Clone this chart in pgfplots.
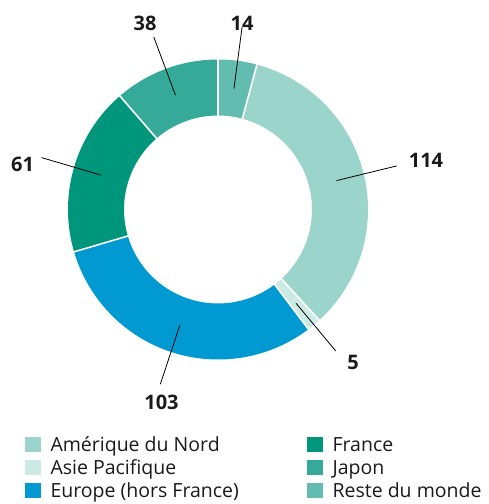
\documentclass[border=0pt]{standalone}
\usepackage{pgfplots}
\usepackage{pgfplotstable}
\pgfplotsset{compat=1.18}
\usepackage{fontspec}
\setmainfont{Open Sans}
\definecolor{col0}{HTML}{62BDB0}% Reste du monde
\definecolor{col1}{HTML}{9BD4CA}% Amerique du Nord
\definecolor{col2}{HTML}{CCE9E4}% Asie Pacifique
\definecolor{col3}{HTML}{0099D1}% Europe
\definecolor{col4}{HTML}{00967B}% France
\definecolor{col5}{HTML}{35AA98}% Japon
\definecolor{txt}{HTML}{1A1A1A}

\pgfplotstableread{
region value
Reste 14
Amerique 114
Asie 5
Europe 103
France 61
Japon 38
}\donutdata

\begin{document}
\begin{tikzpicture}
\def\total{0}%
\pgfplotsforeachungrouped \i in {0,...,5}{%
  \pgfplotstablegetelem{\i}{value}\of\donutdata
  \pgfmathsetmacro\total{\total+\pgfplotsretval}%
}%
\def\cum{0}%
\pgfplotsforeachungrouped \i in {0,...,5}{%
  \pgfplotstablegetelem{\i}{value}\of\donutdata
  \pgfmathsetmacro\tmpa{90-360*(\cum/\total)}%
  \pgfmathsetmacro\cum{\cum+\pgfplotsretval}%
  \pgfmathsetmacro\tmpb{90-360*(\cum/\total)}%
  \pgfmathsetmacro\tmpm{(\tmpa+\tmpb)/2}%
  \expandafter\let\csname angA\i\endcsname\tmpa
  \expandafter\let\csname angB\i\endcsname\tmpb
  \expandafter\let\csname angM\i\endcsname\tmpm
}%
\begin{axis}[
  hide axis, scale only axis,
  width=488pt, height=504pt,
  xmin=0, xmax=488, ymin=-504, ymax=0,
  clip=false,
  legend columns=2,
  legend cell align=left,
  legend image code/.code={\fill[#1, draw=none] (0pt,-5.5pt) rectangle (15.5pt,9.5pt);},
  legend style={
    at={(axis cs:25,-437.2)}, anchor=north west,
    draw=none, fill=none, inner sep=0pt, outer sep=0pt,
    row sep=4.5pt, column sep=0pt,
    font=\fontsize{19.5}{22}\selectfont, text=txt,
    nodes={inner sep=0pt, text height=14pt, text depth=4pt},
  },
]
\path (axis cs:0,0) rectangle (axis cs:488,-504);
\pgfplotsinvokeforeach{0,...,5}{%
  \edef\tmp{\noexpand\addplot[col#1, line width=56pt, domain=\csname angB#1\endcsname:\csname angA#1\endcsname, samples=90, forget plot] ({218+122*cos(x)},{-209.5+122*sin(x)});}\tmp
}
\pgfplotsinvokeforeach{0,...,5}{%
  \edef\tmp{\noexpand\draw[white, line width=1.6pt] (axis cs:{218+92*cos(\csname angA#1\endcsname)},{-209.5+92*sin(\csname angA#1\endcsname)}) -- (axis cs:{218+152*cos(\csname angA#1\endcsname)},{-209.5+152*sin(\csname angA#1\endcsname)});}\tmp
  \edef\tmp{\noexpand\draw[black, line width=0.8pt] (axis cs:{218+122*cos(\csname angM#1\endcsname)},{-209.5+122*sin(\csname angM#1\endcsname)}) -- (axis cs:{218+184*cos(\csname angM#1\endcsname)},{-209.5+184*sin(\csname angM#1\endcsname)});}\tmp
}
\addlegendimage{fill=col1}\addlegendentry{\makebox[266.6pt][l]{\hspace{10pt}Amérique du Nord}}
\addlegendimage{fill=col4}\addlegendentry{\hspace{10pt}France}
\addlegendimage{fill=col2}\addlegendentry{\makebox[266.6pt][l]{\hspace{10pt}Asie Pacifique}}
\addlegendimage{fill=col5}\addlegendentry{\hspace{10pt}Japon}
\addlegendimage{fill=col3}\addlegendentry{\makebox[266.6pt][l]{\hspace{10pt}Europe (hors France)}}
\addlegendimage{fill=col0}\addlegendentry{\hspace{10pt}Reste du monde}
\begin{scope}[every node/.style={font=\bfseries\fontsize{20}{24}\selectfont, text=txt}]
\node at (axis cs:145,-23) {38};
\node at (axis cs:242,-23) {14};
\node at (axis cs:426,-160) {114};
\node at (axis cs:22.5,-164) {61};
\node at (axis cs:353,-362) {5};
\node at (axis cs:161.5,-402) {103};
\end{scope}
\end{axis}
\end{tikzpicture}
\end{document}
